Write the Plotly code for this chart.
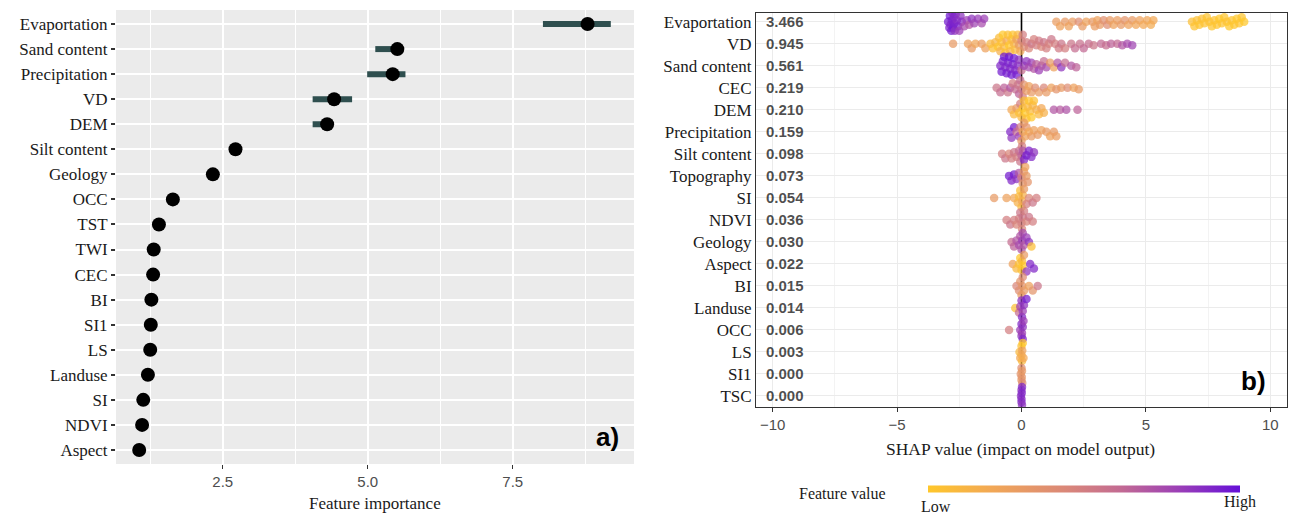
import plotly.graph_objects as go

W, H = 1293, 515

# ---------------- Panel a) data ----------------
imp_features = ["Evaportation", "Sand content", "Precipitation", "VD", "DEM", "Silt content",
                "Geology", "OCC", "TST", "TWI", "CEC", "BI", "SI1", "LS", "Landuse", "SI",
                "NDVI", "Aspect"]
imp_values = [8.79, 5.51, 5.43, 4.42, 4.30, 2.72, 2.33, 1.64, 1.40, 1.31, 1.30, 1.27, 1.26,
              1.25, 1.21, 1.13, 1.11, 1.06]
imp_low = [8.02, 5.13, 4.99, 4.05, 4.05, 2.72, 2.33, 1.64, 1.40, 1.31, 1.30, 1.27, 1.26,
           1.25, 1.21, 1.13, 1.11, 1.06]
imp_high = [9.19, 5.55, 5.65, 4.73, 4.33, 2.72, 2.33, 1.64, 1.40, 1.31, 1.30, 1.27, 1.26,
            1.25, 1.21, 1.13, 1.11, 1.06]
imp_xticks = [2.5, 5.0, 7.5]

# ---------------- Panel b) data ----------------
shap_features = ["Evaportation", "VD", "Sand content", "CEC", "DEM", "Precipitation",
                 "Silt content", "Topography", "SI", "NDVI", "Geology", "Aspect", "BI",
                 "Landuse", "OCC", "LS", "SI1", "TSC"]
shap_mean_abs = [3.466, 0.945, 0.561, 0.219, 0.210, 0.159, 0.098, 0.073, 0.054, 0.036,
                 0.030, 0.022, 0.015, 0.014, 0.006, 0.003, 0.000, 0.000]
shap_xticks = [-10, -5, 0, 5, 10]

# (SHAP value, normalised feature value) pairs read from the beeswarm
pts_evaporation = [
    (-2.95, .95), (-2.90, .92), (-2.88, .97), (-2.85, .90), (-2.82, .95), (-2.80, .93),
    (-2.78, .88), (-2.75, .96), (-2.72, .90), (-2.70, .92), (-2.68, .85), (-2.65, .90),
    (-2.60, .88), (-2.55, .92), (-2.50, .80), (-2.45, .85), (-2.40, .88),
    (-2.30, .75), (-2.20, .80), (-2.10, .70), (-2.00, .85), (-1.90, .78), (-1.75, .82),
    (-1.60, .75), (-1.50, .80),
    (1.40, .28), (1.55, .25), (1.75, .30), (1.90, .25), (2.05, .28), (2.30, .40), (2.45, .30),
    (2.60, .25), (2.85, .30), (2.95, .28), (3.05, .25), (3.15, .30), (3.30, .38), (3.45, .40),
    (3.55, .30), (3.70, .25), (3.85, .28), (4.00, .30), (4.15, .35), (4.30, .25), (4.45, .30),
    (4.60, .22), (4.75, .25), (4.90, .20), (5.05, .22), (5.20, .18), (5.30, .20),
    (6.85, .05), (6.95, .03), (7.05, .04), (7.15, .02), (7.25, .05), (7.35, .03), (7.45, .02),
    (7.55, .04), (7.65, .01), (7.75, .03), (7.85, .02), (7.95, .00), (8.05, .02), (8.15, .01),
    (8.25, .03), (8.35, .00), (8.45, .02), (8.55, .01), (8.65, .00), (8.75, .02), (8.85, .01),
    (8.95, .00)]
pts_vd = [
    (-2.75, .30), (-2.15, .25), (-2.00, .30), (-1.85, .22), (-1.60, .28), (-1.45, .25),
    (-1.25, .10), (-1.15, .05), (-1.05, .12), (-0.95, .02), (-0.90, .08), (-0.85, .15),
    (-0.80, .05), (-0.75, .00), (-0.70, .10), (-0.65, .03), (-0.60, .20), (-0.55, .05),
    (-0.50, .00), (-0.45, .12), (-0.40, .06), (-0.35, .02), (-0.30, .15), (-0.25, .08),
    (-0.20, .25), (-0.15, .10), (-0.10, .30), (-0.05, .20),
    (0.00, .45), (0.05, .50), (0.10, .40), (0.20, .50), (0.30, .45), (0.40, .55), (0.50, .48),
    (0.60, .50), (0.70, .52), (0.80, .45), (0.90, .55), (1.00, .50), (1.10, .48), (1.20, .55),
    (1.35, .50), (1.50, .52), (1.60, .55), (1.75, .50),
    (2.00, .55), (2.15, .60), (2.35, .58), (2.50, .62), (2.70, .60), (2.90, .55), (3.20, .62),
    (3.40, .60), (3.60, .65), (3.85, .62), (4.05, .70), (4.25, .75), (4.45, .78)]
pts_sand = [
    (-0.85, .90), (-0.80, .95), (-0.75, .92), (-0.70, .97), (-0.65, .90), (-0.60, .95),
    (-0.55, .93), (-0.50, .98), (-0.45, .90), (-0.40, .95), (-0.35, .92), (-0.30, .97),
    (-0.25, .90), (-0.20, .94), (-0.15, .88), (-0.10, .85), (0.00, .60), (0.10, .80),
    (0.20, .85), (0.30, .75), (0.40, .80), (0.50, .70), (0.60, .65), (0.70, .80), (0.80, .70),
    (0.90, .60), (1.00, .75), (1.15, .30), (1.30, .25), (1.45, .70), (1.60, .85), (1.75, .60),
    (2.00, .70), (2.20, .65)]
pts_cec = [
    (-1.00, .55), (-0.85, .60), (-0.70, .65), (-0.55, .55), (-0.45, .70), (-0.35, .50),
    (-0.25, .60), (-0.15, .55), (-0.10, .65), (-0.05, .60), (0.00, .55), (0.05, .50),
    (0.10, .35), (0.20, .30), (0.30, .25), (0.40, .30), (0.55, .40), (0.70, .30), (0.90, .45),
    (1.00, .30), (1.20, .25), (1.40, .35), (1.60, .30), (1.85, .40), (2.10, .25), (2.30, .30)]
pts_dem = [
    (-0.40, .20), (-0.30, .10), (-0.20, .30), (-0.10, .05), (-0.05, .50), (0.00, .10),
    (0.05, .02), (0.10, .08), (0.15, .00), (0.20, .05), (0.25, .10), (0.30, .02), (0.35, .08),
    (0.40, .00), (0.45, .12), (0.50, .05), (0.60, .15), (0.70, .10), (0.80, .20), (0.90, .15),
    (1.30, .70), (1.55, .68), (1.80, .72), (2.25, .65)]
pts_precipitation = [
    (-0.45, .90), (-0.40, .85), (-0.30, .95), (-0.20, .60), (-0.10, .80), (-0.05, .50),
    (0.00, .30), (0.05, .20), (0.10, .30), (0.15, .25), (0.20, .35), (0.30, .20), (0.40, .30),
    (0.50, .25), (0.65, .30), (0.80, .25), (1.00, .30), (1.15, .25), (1.30, .30), (1.40, .28)]
pts_silt = [
    (-0.78, .50), (-0.65, .55), (-0.50, .45), (-0.40, .50), (-0.30, .55), (-0.20, .50),
    (-0.10, .60), (-0.05, .55), (0.00, .65), (0.02, .50), (0.05, .70), (0.10, .90),
    (0.20, .95), (0.30, .92), (0.40, .90), (0.50, .85)]
pts_topography = [
    (-0.50, .95), (-0.40, .90), (-0.30, .95), (-0.20, .85), (-0.10, .70), (0.00, .50),
    (0.05, .35), (0.10, .30), (0.15, .25), (0.20, .30), (0.25, .35)]
pts_si = [
    (-1.10, .30), (-0.60, .25), (-0.30, .20), (-0.15, .15), (-0.10, .10), (-0.05, .05),
    (0.00, .10), (0.02, .20), (0.05, .15), (0.10, .30), (0.20, .50), (0.30, .45), (0.45, .55),
    (0.60, .50)]
pts_ndvi = [
    (-0.60, .50), (-0.45, .55), (-0.30, .50), (-0.20, .45), (-0.10, .50), (-0.05, .55),
    (0.00, .50), (0.02, .45), (0.05, .55), (0.10, .50), (0.20, .45), (0.30, .55), (0.45, .50)]
pts_geology = [
    (-0.40, .60), (-0.30, .65), (-0.20, .70), (-0.10, .75), (-0.05, .70), (0.00, .72),
    (0.03, .80), (0.05, .75), (0.10, .70), (0.20, .80), (0.30, .85), (0.40, .05)]
pts_aspect = [
    (-0.35, .25), (-0.20, .10), (-0.10, .05), (-0.05, .00), (0.00, .05), (0.02, .10),
    (0.05, .00), (0.10, .30), (0.20, .85), (0.35, .90), (0.50, .90)]
pts_bi = [
    (-0.20, .45), (-0.10, .40), (-0.05, .35), (0.00, .30), (0.03, .35), (0.05, .40),
    (0.10, .30), (0.30, .25), (0.45, .35), (0.65, .55)]
pts_landuse = [
    (-0.25, .05), (-0.10, .60), (-0.05, .80), (0.00, .85), (0.02, .90), (0.05, .80),
    (0.10, .85), (0.20, .95)]
pts_occ = [
    (-0.50, .50), (-0.05, .80), (0.00, .85), (0.00, .90), (0.02, .80), (0.05, .85),
    (0.05, .90), (0.08, .80)]
pts_ls = [
    (-0.08, .10), (-0.05, .20), (0.00, .05), (0.00, .15), (0.02, .10), (0.03, .25),
    (0.05, .00), (0.08, .20)]
pts_si1 = [
    (-0.03, .35), (0.00, .30), (0.00, .40), (0.01, .35), (0.02, .30), (0.03, .40)]
pts_tsc = [
    (-0.02, .85), (0.00, .90), (0.00, .85), (0.00, .88), (0.01, .90), (0.02, .85), (0.02, .90)]

shap_points = [pts_evaporation, pts_vd, pts_sand, pts_cec, pts_dem, pts_precipitation,
               pts_silt, pts_topography, pts_si, pts_ndvi, pts_geology, pts_aspect, pts_bi,
               pts_landuse, pts_occ, pts_ls, pts_si1, pts_tsc]

colorscale = [[0.0, "#FFC72A"], [0.2, "#F2A855"], [0.45, "#D9867A"], [0.62, "#C26A93"],
              [0.8, "#9C40B6"], [1.0, "#6510D8"]]

# ---------------- geometry (pixels) ----------------
a_x0, a_x1, a_y0, a_y1 = 116, 634, 10, 464
b_x0, b_x1, b_y0, b_y1 = 756, 1287, 13, 407
a_xrange = [0.66, 9.59]
b_xrange = [-10.67, 10.67]
b_yrange = [17.5, -0.4]
ppx_b = (b_x1 - b_x0) / (b_xrange[1] - b_xrange[0])
row_px_b = 22.0


def swarm_offsets(xs, ppx, ppr, mind=5.0, step=1.5, maxoff=9.0):
    order = sorted(range(len(xs)), key=lambda i: xs[i])
    placed, offs = [], [0.0] * len(xs)
    cands = [0.0]
    k = 1
    while k * step <= maxoff:
        cands += [k * step, -k * step]
        k += 1
    for i in order:
        px = xs[i] * ppx
        near = [(qx, qy) for qx, qy in placed if abs(qx - px) < mind]
        chosen, bestd, bestc = None, -1, 0.0
        for c in cands:
            d = min([((px - qx) ** 2 + (c - qy) ** 2) ** 0.5 for qx, qy in near], default=1e9)
            if d >= mind:
                chosen = c
                break
            if d > bestd:
                bestd, bestc = d, c
        if chosen is None:
            chosen = bestc
        placed.append((px, chosen))
        offs[i] = chosen / ppr
    return offs


fig = go.Figure()

# panel a: interval bars, then points
for i, (lo, hi) in enumerate(zip(imp_low, imp_high)):
    if hi > lo:
        fig.add_trace(go.Scatter(x=[lo, hi], y=[i, i], mode="lines",
                                 line=dict(color="#2F4F4F", width=6),
                                 xaxis="x", yaxis="y", showlegend=False, hoverinfo="skip"))
fig.add_trace(go.Scatter(x=imp_values, y=list(range(len(imp_features))), mode="markers",
                         marker=dict(color="black", size=14),
                         xaxis="x", yaxis="y", showlegend=False))

# panel b: zero reference line, then beeswarm
fig.add_trace(go.Scatter(x=[0, 0], y=b_yrange, mode="lines",
                         line=dict(color="black", width=1.6),
                         xaxis="x2", yaxis="y2", showlegend=False, hoverinfo="skip"))
bx, by, bc = [], [], []
for r, pts in enumerate(shap_points):
    xs = [p[0] for p in pts]
    offs = swarm_offsets(xs, ppx_b, row_px_b)
    for (sx, fv), o in zip(pts, offs):
        bx.append(sx)
        by.append(r + o)
        bc.append(fv)
fig.add_trace(go.Scatter(x=bx, y=by, mode="markers",
                         marker=dict(size=8.5, color=bc, coloraxis="coloraxis", opacity=0.72,
                                     line=dict(width=0)),
                         xaxis="x2", yaxis="y2", showlegend=False))

serif = "Liberation Serif, Times New Roman, serif"
sans = "Liberation Sans, Arial, sans-serif"

fig.update_layout(
    width=W, height=H, margin=dict(l=0, r=0, t=0, b=0),
    paper_bgcolor="white", plot_bgcolor="white",
    xaxis=dict(domain=[a_x0 / W, a_x1 / W], range=a_xrange, tickvals=imp_xticks,
               ticktext=[f"{v:.1f}" for v in imp_xticks], showgrid=True, gridcolor="white",
               gridwidth=1.6, zeroline=False, ticks="outside", ticklen=4, tickwidth=1.2,
               tickcolor="#333333", tickfont=dict(family=sans, size=15, color="#4D4D4D"),
               minor=dict(tickvals=[1.25, 3.75, 6.25, 8.75], showgrid=True, gridcolor="white",
                          gridwidth=0.8, ticks=""),
               showline=False, automargin=False, fixedrange=True),
    yaxis=dict(domain=[1 - a_y1 / H, 1 - a_y0 / H], range=[17.56, -0.56],
               tickvals=list(range(len(imp_features))), ticktext=imp_features,
               showgrid=True, gridcolor="white", gridwidth=1.6, zeroline=False,
               ticks="outside", ticklen=4, tickwidth=2, tickcolor="#333333",
               tickfont=dict(family=serif, size=17, color="#1A1A1A"),
               showline=False, automargin=False, fixedrange=True),
    xaxis2=dict(domain=[b_x0 / W, b_x1 / W], range=b_xrange, tickvals=shap_xticks,
                showgrid=True, gridcolor="#EBEBEB", gridwidth=1, zeroline=False,
                ticks="outside", ticklen=4, tickwidth=1, tickcolor="#333333",
                tickfont=dict(family=sans, size=15, color="#4D4D4D"),
                minor=dict(tickvals=[-7.5, -2.5, 2.5, 7.5], showgrid=True,
                           gridcolor="#F3F3F3", gridwidth=0.8, ticks=""),
                showline=True, mirror=True, linecolor="#333333", linewidth=1,
                anchor="y2", automargin=False, fixedrange=True),
    yaxis2=dict(domain=[1 - b_y1 / H, 1 - b_y0 / H], range=b_yrange,
                tickvals=list(range(len(shap_features))), ticktext=shap_features,
                showgrid=True, gridcolor="#EBEBEB", gridwidth=1, zeroline=False,
                ticks="", tickfont=dict(family=serif, size=17, color="#1A1A1A"),
                showline=True, mirror=True, linecolor="#333333", linewidth=1,
                anchor="x2", automargin=False, fixedrange=True),
    coloraxis=dict(colorscale=colorscale, cmin=0, cmax=1,
                   colorbar=dict(orientation="h", x=1084 / W, xanchor="center",
                                 y=1 - 489 / H, yanchor="middle", len=312, lenmode="pixels",
                                 thickness=7, outlinewidth=0, showticklabels=False, ticks="",
                                 xpad=0, ypad=0)),
    shapes=[
        dict(type="rect", xref="x domain", yref="y domain", x0=0, x1=1, y0=0, y1=1,
             fillcolor="#EBEBEB", line=dict(width=0), layer="below"),
    ],
)

ann = []
for r, v in enumerate(shap_mean_abs):
    ann.append(dict(x=-10.33, y=r, xref="x2", yref="y2", text=f"<b>{v:.3f}</b>",
                    showarrow=False, xanchor="left", yanchor="middle",
                    font=dict(family=sans, size=15, color="rgba(0,0,0,0.7)")))
ann += [
    dict(x=(a_x0 + a_x1) / 2 / W, y=1 - 503 / H, xref="paper", yref="paper",
         text="Feature importance", showarrow=False, xanchor="center", yanchor="middle",
         font=dict(family=serif, size=17, color="#1A1A1A")),
    dict(x=1020 / W, y=1 - 449 / H, xref="paper", yref="paper",
         text="SHAP value (impact on model output)", showarrow=False, xanchor="center",
         yanchor="middle", font=dict(family=serif, size=17.5, color="#1A1A1A")),
    dict(x=607 / W, y=1 - 437 / H, xref="paper", yref="paper", text="<b>a)</b>",
         showarrow=False, xanchor="center", yanchor="middle",
         font=dict(family=sans, size=26, color="black")),
    dict(x=1253 / W, y=1 - 381 / H, xref="paper", yref="paper", text="<b>b)</b>",
         showarrow=False, xanchor="center", yanchor="middle",
         font=dict(family=sans, size=26, color="black")),
    dict(x=842 / W, y=1 - 493 / H, xref="paper", yref="paper", text="Feature value",
         showarrow=False, xanchor="center", yanchor="middle",
         font=dict(family=serif, size=16, color="#1A1A1A")),
    dict(x=936 / W, y=1 - 506 / H, xref="paper", yref="paper", text="Low",
         showarrow=False, xanchor="center", yanchor="middle",
         font=dict(family=serif, size=16, color="#1A1A1A")),
    dict(x=1240 / W, y=1 - 502 / H, xref="paper", yref="paper", text="High",
         showarrow=False, xanchor="center", yanchor="middle",
         font=dict(family=serif, size=16, color="#1A1A1A")),
]
fig.update_layout(annotations=ann)

fig.write_html("out.html", config={"displayModeBar": False},
               post_script="document.body.style.margin='0';document.body.style.overflow='hidden';")
